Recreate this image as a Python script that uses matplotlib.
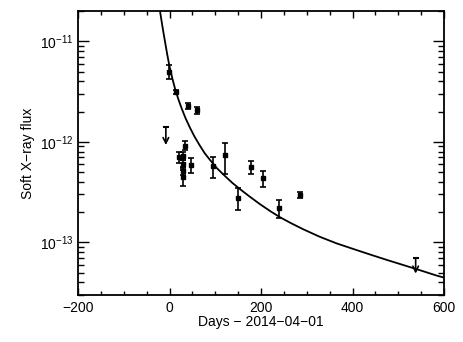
import matplotlib
matplotlib.use("Agg")
import matplotlib.pyplot as plt
from matplotlib.ticker import MultipleLocator, LogLocator, NullFormatter, FixedLocator

# detections: day, flux, lower / upper error
days = [-1, 13.5, 40, 59.4, 21.4, 29.5, 29.5, 29.5, 29.5, 34.5, 47.6,
        94.4, 122, 150, 178, 205, 240, 285]
flux = [4.95e-12, 3.13e-12, 2.26e-12, 2.06e-12, 7.03e-13, 7.2e-13, 6.0e-13,
        5.16e-13, 4.46e-13, 9.16e-13, 5.86e-13, 5.73e-13, 7.36e-13,
        2.74e-13, 5.56e-13, 4.33e-13, 2.18e-13, 2.95e-13]
err_lo = [0.69e-12, 0.15e-12, 0.16e-12, 0.18e-12, 0.085e-12, 0.065e-12,
          0.055e-12, 0.05e-12, 0.08e-12, 0.09e-12, 0.1e-12, 1.4e-13,
          2.6e-13, 0.65e-13, 0.79e-13, 0.81e-13, 0.45e-13, 0.2e-13]
err_hi = [0.83e-12, 0.15e-12, 0.16e-12, 0.18e-12, 0.085e-12, 0.065e-12,
          0.055e-12, 0.05e-12, 0.08e-12, 0.1e-12, 0.1e-12, 1.35e-13,
          2.3e-13, 0.7e-13, 0.91e-13, 0.81e-13, 0.45e-13, 0.2e-13]

# upper limits: day, limit value, arrow tip
ul_days = [-8, 538]
ul_top = [1.41e-12, 6.93e-14]
ul_tip = [9.3e-13, 4.9e-14]

# decay curve
curve_days = [-22, -20.8, -15, -10, -5, 0, 6, 12, 19, 26.7, 35, 44.8, 55,
              66.7, 77, 88.5, 104, 121.3, 137, 154, 175, 197.8, 220, 241.5,
              266, 292.5, 328, 365.5, 402, 438, 475, 511, 548, 584, 600]
curve_flux = [2.2e-11, 1.995e-11, 1.36e-11, 1.0e-11, 7.4e-12, 5.62e-12,
              4.3e-12, 3.39e-12, 2.68e-12, 2.14e-12, 1.72e-12, 1.38e-12,
              1.12e-12, 9.12e-13, 7.7e-13, 6.61e-13, 5.45e-13, 4.57e-13,
              3.92e-13, 3.39e-13, 2.86e-13, 2.40e-13, 2.05e-13, 1.78e-13,
              1.55e-13, 1.35e-13, 1.14e-13, 9.77e-14, 8.6e-14, 7.59e-14,
              6.7e-14, 5.96e-14, 5.28e-14, 4.68e-14, 4.47e-14]

plt.rcParams["font.family"] = ["Liberation Sans", "DejaVu Sans"]
plt.rcParams["font.size"] = 10

fig = plt.figure(figsize=(4.63, 3.42), dpi=100)
ax = fig.add_axes([0.1685, 0.1374, 0.7905, 0.8304])

ax.plot(curve_days, curve_flux, color="k", lw=1.3)
ax.errorbar(days, flux, yerr=[err_lo, err_hi], fmt="s", ms=2.5, color="k",
            ecolor="k", elinewidth=1.2, capsize=2, capthick=1.2)

for d, top, tip in zip(ul_days, ul_top, ul_tip):
    ax.annotate("", xy=(d, tip), xytext=(d, top),
                arrowprops=dict(arrowstyle="->", lw=1.2, color="k",
                                shrinkA=0, shrinkB=0, mutation_scale=10))
    ax.plot([d], [top], marker="_", ms=5, mew=1.5, color="k")

ax.set_yscale("log")
ax.set_xlim(-200, 600)
ax.set_ylim(3.0e-14, 2.0e-11)

ax.xaxis.set_major_locator(MultipleLocator(200))
ax.xaxis.set_minor_locator(MultipleLocator(50))
ax.yaxis.set_major_locator(FixedLocator([1e-13, 1e-12, 1e-11]))
ax.yaxis.set_minor_locator(LogLocator(base=10, subs=range(2, 10), numticks=10))
ax.yaxis.set_minor_formatter(NullFormatter())

ax.tick_params(which="both", direction="in", top=True, right=True,
               width=1.0, labelsize=10)
ax.tick_params(axis="y", which="major", length=8)
ax.tick_params(axis="y", which="minor", length=4)
ax.tick_params(axis="x", which="major", length=5, pad=4)
ax.tick_params(axis="x", which="minor", length=3)
for s in ax.spines.values():
    s.set_linewidth(1.3)

ax.set_xlabel("Days \u2212 2014\u221204\u221201", labelpad=0)
ax.set_ylabel("Soft X\u2212ray flux", labelpad=3)

fig.savefig("out.png", dpi=100)
